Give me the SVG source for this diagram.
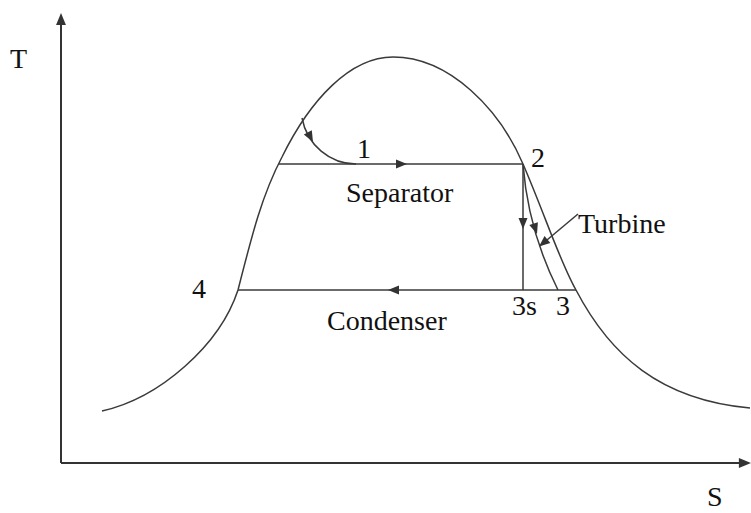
<svg xmlns="http://www.w3.org/2000/svg" width="751" height="513" viewBox="0 0 751 513">
<style>
  .ln{fill:none;stroke:#3a3a3a;stroke-width:1.5}
  .ax{fill:none;stroke:#333;stroke-width:2}
  .ah{fill:#333;stroke:none}
  text{font-family:"Liberation Serif","Times New Roman",serif;font-size:28px;fill:#111}
</style>
<defs>
  <path id="ah" d="M0,0 L-11,-4.5 L-11,4.5 Z"/>
</defs>
<rect width="751" height="513" fill="#fff"/>
<g id="axes">
  <path class="ax" d="M61,463 V22"/>
  <use href="#ah" class="ah" transform="translate(61,13) rotate(-90) scale(1.1)"/>
  <path class="ax" d="M61,463 H742"/>
  <use href="#ah" class="ah" transform="translate(751,463) scale(1.1)"/>
  <text x="10" y="68">T</text>
  <text x="707" y="506">S</text>
</g>
<g id="dome">
  <path class="ln" d="M102,411 C160,398 220,345 238,290 C252,235 262,195 282,157 C310,100 350,57 393,57 C450,57 500,110 523,164 C545,215 560,262 576,290 C610,355 660,400 750,408"/>
</g>
<g id="connectors">
  <path class="ln" d="M302,118 C307,145 330,164 356,164"/>
  <use href="#ah" class="ah" transform="translate(313,142) rotate(62)"/>
  <path class="ln" d="M279,164 H523"/>
  <use href="#ah" class="ah" transform="translate(407,164)"/>
  <path class="ln" d="M523,164 V290"/>
  <use href="#ah" class="ah" transform="translate(523,229) rotate(90)"/>
  <path class="ln" d="M523,164 Q528,230 558,290"/>
  <use href="#ah" class="ah" transform="translate(537,234) rotate(72)"/>
  <path class="ln" d="M238,290 H576"/>
  <use href="#ah" class="ah" transform="translate(388,290) rotate(180)"/>
  <path class="ln" d="M578,214 L541,245"/>
  <use href="#ah" class="ah" transform="translate(539,246.5) rotate(140)"/>
</g>
<g id="labels">
  <text x="357" y="158">1</text>
  <text x="531" y="167">2</text>
  <text x="346" y="202">Separator</text>
  <text x="578" y="233">Turbine</text>
  <text x="192" y="298">4</text>
  <text x="512" y="315">3s</text>
  <text x="556" y="315">3</text>
  <text x="327" y="330">Condenser</text>
</g>
</svg>
